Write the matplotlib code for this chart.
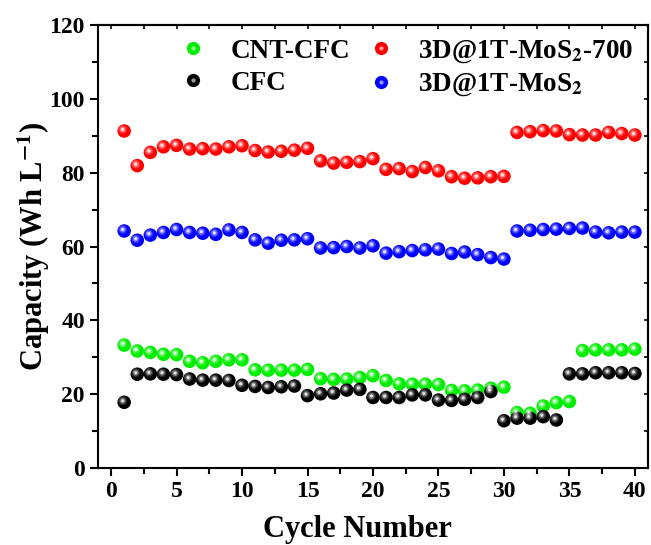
import numpy as np
import matplotlib
matplotlib.use("Agg")
import matplotlib.pyplot as plt
from matplotlib.transforms import offset_copy
from matplotlib.lines import Line2D
from matplotlib.legend_handler import HandlerTuple

plt.rcParams["font.family"] = "serif"
plt.rcParams["font.serif"] = ["Liberation Serif", "DejaVu Serif"]
plt.rcParams["font.weight"] = "bold"
plt.rcParams["mathtext.fontset"] = "stix"
plt.rcParams["xtick.labelsize"] = 17
plt.rcParams["ytick.labelsize"] = 17

cycles = np.arange(1, 41)

mos2_700 = [91.3, 81.9, 85.5, 87.0, 87.4, 86.4, 86.5, 86.4, 87.0, 87.3,
            86.0, 85.6, 85.8, 86.1, 86.6, 83.2, 82.6, 82.8, 83.0, 83.8,
            80.9, 81.1, 80.3, 81.4, 80.5, 78.9, 78.5, 78.6, 78.9, 79.0,
            90.9, 91.1, 91.4, 91.3, 90.3, 90.2, 90.2, 90.9, 90.6, 90.2]
mos2 = [64.2, 61.7, 63.1, 63.8, 64.6, 63.8, 63.6, 63.3, 64.5, 63.8,
        61.8, 60.9, 61.7, 61.8, 62.1, 59.6, 59.7, 60.0, 59.6, 60.2,
        58.2, 58.6, 58.9, 59.1, 59.3, 58.1, 58.5, 57.8, 57.0, 56.6,
        64.2, 64.4, 64.6, 64.7, 64.9, 65.0, 63.9, 63.7, 63.9, 63.9]
cnt_cfc = [33.3, 31.7, 31.3, 30.8, 30.7, 28.9, 28.5, 28.9, 29.3, 29.3,
           26.6, 26.5, 26.5, 26.5, 26.7, 24.2, 24.0, 24.1, 24.5, 25.0,
           23.7, 22.8, 22.7, 22.7, 22.6, 21.0, 20.9, 21.1, 21.6, 21.9,
           15.0, 14.8, 16.8, 17.7, 18.0, 31.8, 32.0, 32.0, 32.0, 32.2]
cfc = [17.8, 25.4, 25.5, 25.4, 25.3, 24.1, 23.8, 23.8, 23.7, 22.4,
       22.1, 21.8, 22.0, 22.2, 19.6, 20.1, 20.3, 21.1, 21.3, 19.1,
       19.1, 19.1, 19.8, 19.8, 18.4, 18.3, 18.6, 19.1, 20.7, 12.8,
       13.5, 13.5, 13.9, 13.0, 25.5, 25.5, 25.8, 25.8, 25.8, 25.6]

# (label, values, colour)
SERIES = [
    ("CNT-CFC", cnt_cfc, "#00ee00"),
    ("CFC", cfc, "#000000"),
    ("3D@1T-MoS$_\\mathbf{2}$-700", mos2_700, "#ff0000"),
    ("3D@1T-MoS$_\\mathbf{2}$", mos2, "#0000ff"),
]

fig = plt.figure(figsize=(6.51, 5.45), dpi=100)
ax = fig.add_axes([0.1505, 0.1413, 0.8449, 0.8128])

# glossy "ball" look: solid disc + soft highlight shifted up-left
hl = offset_copy(ax.transData, fig=fig, x=-1.5, y=1.5, units="dots")
handles = []
for label, vals, col in SERIES:
    ax.scatter(cycles, vals, s=95, c=col, edgecolors="none", zorder=3)
    ax.scatter(cycles, vals, s=40, c="white", alpha=0.18, edgecolors="none",
               zorder=4, transform=hl)
    ax.scatter(cycles, vals, s=18, c="white", alpha=0.35, edgecolors="none",
               zorder=5, transform=hl)
    ax.scatter(cycles, vals, s=5, c="white", alpha=0.8, edgecolors="none",
               zorder=6, transform=hl)
    h1 = Line2D([], [], ls="none", marker="o", ms=9.5, mfc=col, mec="none")
    h2 = Line2D([], [], ls="none", marker="o", ms=3, mfc="white", mec="none", alpha=0.6)
    handles.append((h1, h2))

ax.legend(handles, [s[0] for s in SERIES], ncol=2, frameon=False,
          loc="upper left", bbox_to_anchor=(0.104, 1.025),
          handler_map={tuple: HandlerTuple(ndivide=1)},
          prop={"size": 19.5, "weight": "bold"}, handlelength=1.0,
          handletextpad=0.87, columnspacing=0.65, labelspacing=0.26)

ax.set_xlim(-1, 41)
ax.set_ylim(0, 120)
ax.set_xticks(np.arange(0, 41, 5))
ax.set_xticks(np.arange(0, 41, 2.5), minor=True)
ax.set_yticks(np.arange(0, 121, 20))
ax.set_yticks(np.arange(0, 121, 10), minor=True)
ax.tick_params(which="both", direction="out", top=False, right=False,
               labelsize=17, width=1.5)
ax.tick_params(which="major", length=6)
ax.tick_params(which="minor", length=4)
ax2 = ax.secondary_xaxis("top")
ax2.set_xticks(np.arange(0, 41, 5))
ax2.set_xticks(np.arange(0, 41, 2.5), minor=True)
ax2.tick_params(which="both", direction="in", labeltop=False, width=1.2, length=3)
ax3 = ax.secondary_yaxis("right")
ax3.set_yticks(np.arange(0, 121, 20))
ax3.set_yticks(np.arange(0, 121, 10), minor=True)
ax3.tick_params(which="both", direction="in", labelright=False, width=1.2, length=3)
for sp in ax.spines.values():
    sp.set_linewidth(1.5)
ax2.spines["top"].set_linewidth(1.5)
ax3.spines["right"].set_linewidth(1.5)

ax.set_xlabel("Cycle Number", fontsize=22, fontweight="bold", labelpad=9)
ax.xaxis.label.set_x(0.472)
ax.set_ylabel("Capacity (Wh L$^{\\mathbf{-1}}$)", fontsize=22, fontweight="bold", labelpad=-2)

fig.savefig("out.png", dpi=100)
